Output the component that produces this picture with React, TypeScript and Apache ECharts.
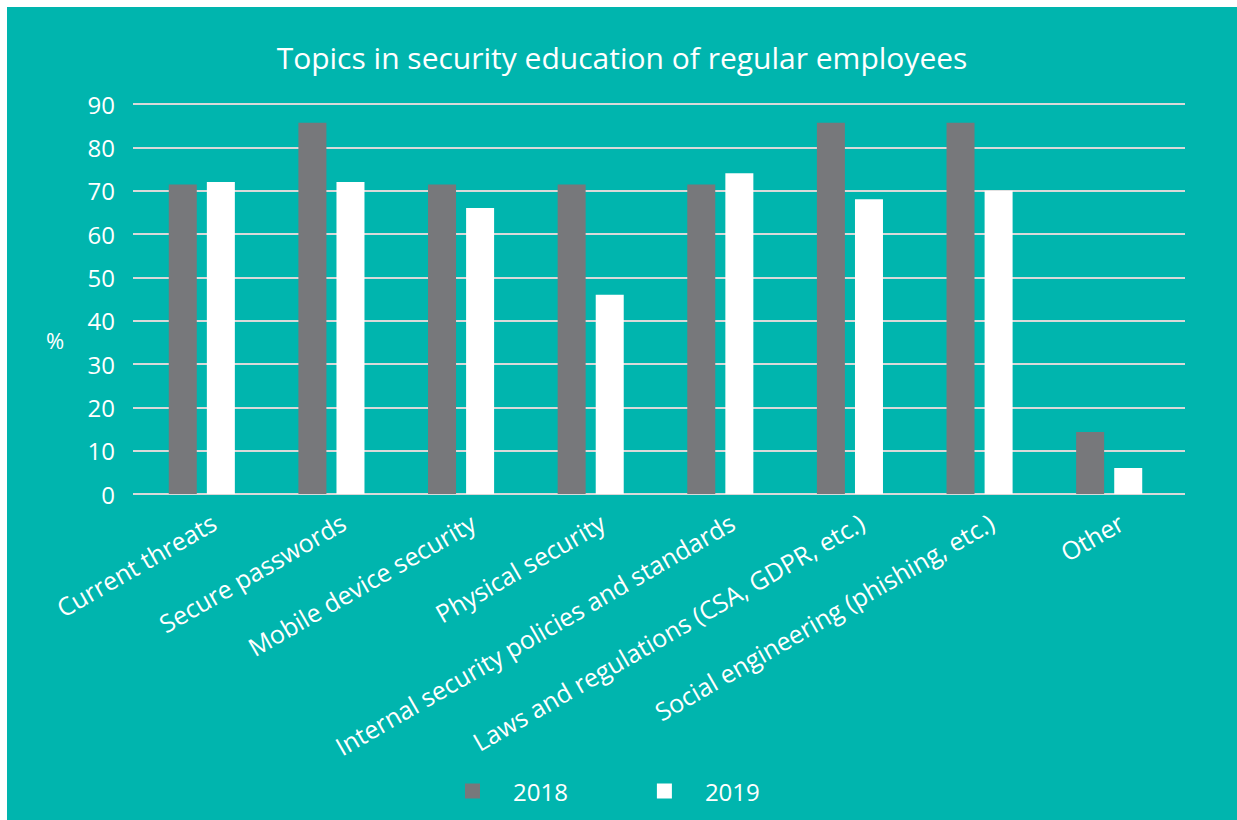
import React, { useEffect, useRef } from "react";
import * as echarts from "echarts";

const categories = [
  "Current threats",
  "Secure passwords",
  "Mobile device security",
  "Physical security",
  "Internal security policies and standards",
  "Laws and regulations (CSA, GDPR, etc.)",
  "Social engineering (phishing, etc.)",
  "Other",
];
const values2018 = [71.4, 85.7, 71.4, 71.4, 71.4, 85.7, 85.7, 14.3];
const values2019 = [72, 72, 66, 46, 74, 68, 70, 6];
const seriesNames = ["2018", "2019"];

const TEAL = "#00B5AE";
const GRAY = "#77787B";
const WHITE = "#FFFFFF";
const LINE = "#D9D9D9";
const FONT = "Open Sans";

export default function App() {
  const ref = useRef<HTMLDivElement>(null);

  useEffect(() => {
    if (!ref.current) return;
    const chart = echarts.init(ref.current, undefined, { renderer: "svg" });
    chart.setOption({
      animation: false,
      backgroundColor: TEAL,
      textStyle: { fontFamily: FONT, color: WHITE },
      title: {
        text: "Topics in security education of regular employees",
        left: "center",
        top: 30,
        textStyle: { color: WHITE, fontFamily: FONT, fontSize: 30, fontWeight: "normal" },
      },
      legend: {
        data: seriesNames,
        bottom: 12,
        left: 453,
        icon: "rect",
        itemWidth: 15,
        itemHeight: 15,
        itemGap: 89,
        textStyle: { color: WHITE, fontFamily: FONT, fontSize: 24, padding: [0, 0, 0, 28] },
      },
      graphic: [
        {
          type: "text",
          left: 39,
          top: 322,
          style: { text: "%", fill: WHITE, font: `22px "${FONT}"` },
        },
      ],
      grid: [
        // plot area for the bars
        { left: 130, right: 63, top: 97, bottom: 326 },
        // full-width area for the gridlines and value labels
        { left: 126, right: 52, top: 97, bottom: 326 },
        // band that carries the slanted category labels
        { left: 142, right: 51, top: 97, bottom: 326 },
      ],
      xAxis: [
        {
          type: "category",
          gridIndex: 0,
          data: categories,
          show: false,
        },
        {
          type: "value",
          gridIndex: 1,
          show: false,
        },
        {
          type: "category",
          gridIndex: 2,
          data: categories,
          axisTick: { show: false },
          axisLine: { show: false },
          axisLabel: {
            interval: 0,
            rotate: 30,
            color: WHITE,
            fontFamily: FONT,
            fontSize: 25,
            margin: 26,
          },
        },
      ],
      yAxis: [
        {
          type: "value",
          gridIndex: 0,
          min: 0,
          max: 90,
          interval: 10,
          show: false,
          splitLine: { show: false },
        },
        {
          type: "value",
          gridIndex: 1,
          min: 0,
          max: 90,
          interval: 10,
          axisLine: { show: false },
          axisTick: { show: false },
          axisLabel: { color: WHITE, fontFamily: FONT, fontSize: 24, margin: 18 },
          splitLine: { lineStyle: { color: LINE, width: 2 } },
        },
        {
          type: "value",
          gridIndex: 2,
          min: 0,
          max: 90,
          interval: 10,
          show: false,
          splitLine: { show: false },
        },
      ],
      series: [
        {
          name: seriesNames[0],
          type: "bar",
          xAxisIndex: 0,
          yAxisIndex: 0,
          data: values2018,
          barWidth: 28,
          barGap: "36%",
          itemStyle: { color: GRAY },
        },
        {
          name: seriesNames[1],
          type: "bar",
          xAxisIndex: 0,
          yAxisIndex: 0,
          data: values2019,
          barWidth: 28,
          itemStyle: { color: WHITE },
        },
      ],
    });
    return () => chart.dispose();
  }, []);

  return (
    <div style={{ position: "fixed", left: 0, top: 0, width: 1237, height: 820, background: "#fff" }}>
      <div ref={ref} style={{ position: "absolute", left: 7, top: 7, width: 1230, height: 813 }} />
    </div>
  );
}
